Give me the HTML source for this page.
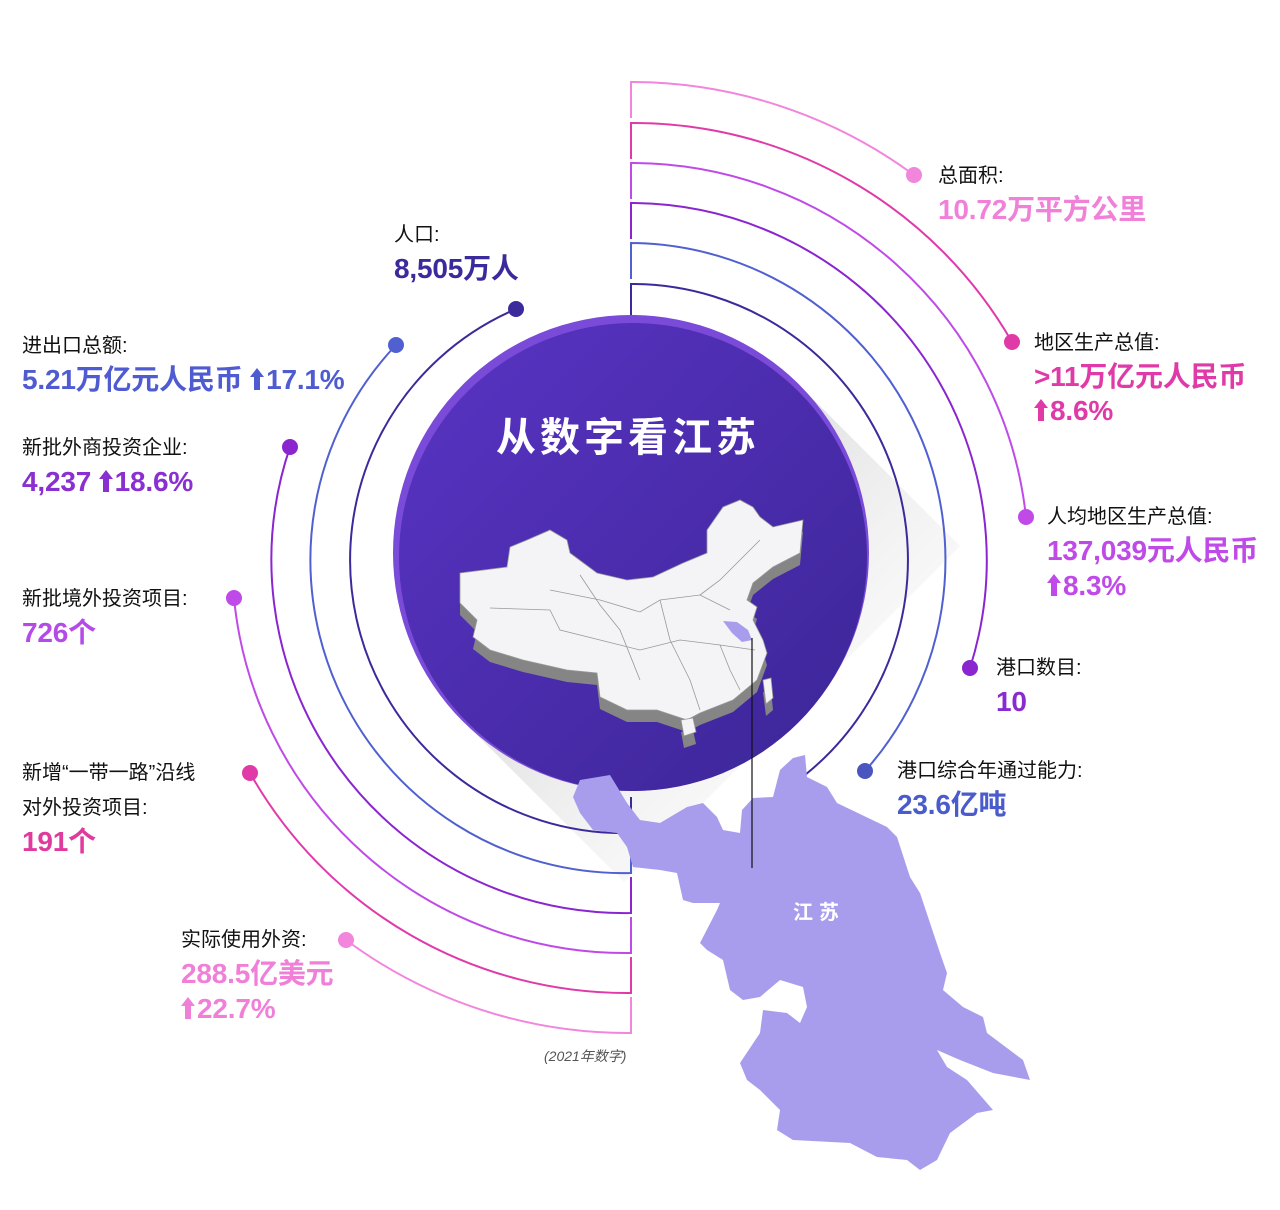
<!DOCTYPE html>
<html><head><meta charset="utf-8">
<style>
html,body{margin:0;padding:0;background:#fff;}
#w{position:relative;width:1280px;height:1210px;overflow:hidden;font-family:"Liberation Sans","Noto Sans CJK SC",sans-serif;}
svg{position:absolute;left:0;top:0;}
.t{position:absolute;white-space:nowrap;line-height:1;}
.l{font-size:20px;color:#111;}
.v{font-size:28px;font-weight:bold;letter-spacing:-0.2px;}
.ar{display:inline-block;width:14px;height:22px;vertical-align:-1px;margin-right:2px;}
</style></head><body><div id="w">
<svg width="1280" height="1210" viewBox="0 0 1280 1210">
<defs>
<linearGradient id="sh" x1="0" y1="0" x2="1" y2="1">
<stop offset="0" stop-color="#b0b0b0" stop-opacity="0.9"/>
<stop offset="0.5" stop-color="#dcdcdc" stop-opacity="0.5"/>
<stop offset="1" stop-color="#fff" stop-opacity="0"/>
</linearGradient>
<linearGradient id="cg" x1="0" y1="0" x2="1" y2="1">
<stop offset="0" stop-color="#5a34c4"/>
<stop offset="1" stop-color="#3b2596"/>
</linearGradient>
</defs>
<!-- shadow -->
<polygon points="799,385 960,546 624,882 463,721" fill="url(#sh)"/>
<!-- arcs right -->
<g fill="none" stroke-width="2">
<path d="M631 118 V82 A478 478 0 0 1 914 175" stroke="#f285dc"/>
<path d="M631 159 V123 A437 437 0 0 1 1012 342" stroke="#e03aa8"/>
<path d="M631 199 V163 A397 397 0 0 1 1026 517" stroke="#c04ae8"/>
<path d="M631 239 V203 A357 357 0 0 1 970 668" stroke="#8a25cf"/>
<path d="M631 279 V243 A317 317 0 0 1 865 771" stroke="#5060d0"/>
<path d="M631 320 V284 A276 276 0 0 1 805 775" stroke="#3a2a9c"/>
<!-- arcs left -->
<path d="M631 997 V1033 A473 473 0 0 1 346 940" stroke="#f285dc"/>
<path d="M631 957 V993 A433 433 0 0 1 250 773" stroke="#e03aa8"/>
<path d="M631 917 V953 A393 393 0 0 1 234 598" stroke="#c04ae8"/>
<path d="M631 877 V913 A353 353 0 0 1 290 447" stroke="#8a25cf"/>
<path d="M631 837 V873 A313 313 0 0 1 396 345" stroke="#5060d0"/>
<path d="M631 797 V833 A273 273 0 0 1 516 309" stroke="#3a2a9c"/>
</g>
<!-- circle -->
<circle cx="631" cy="553" r="238" fill="#7a4ad8"/>
<circle cx="633" cy="557" r="234" fill="url(#cg)"/>
<!-- dots -->
<g>
<circle cx="914" cy="175" r="8" fill="#f285dc"/>
<circle cx="1012" cy="342" r="8" fill="#e03aa8"/>
<circle cx="1026" cy="517" r="8" fill="#c04ae8"/>
<circle cx="970" cy="668" r="8" fill="#8a25cf"/>
<circle cx="865" cy="771" r="8" fill="#4a55c0"/>
<circle cx="346" cy="940" r="8" fill="#f285dc"/>
<circle cx="250" cy="773" r="8" fill="#e03aa8"/>
<circle cx="234" cy="598" r="8" fill="#c04ae8"/>
<circle cx="290" cy="447" r="8" fill="#8a25cf"/>
<circle cx="396" cy="345" r="8" fill="#5060d0"/>
<circle cx="516" cy="309" r="8" fill="#3a2a9c"/>
</g>
<!-- china map -->
<g transform="translate(0,12)" fill="#858585">
<polygon points="460,573 507,567 510,547 527,540 550,530 567,540 570,553 597,573 627,580 653,577 683,563 707,553 707,530 723,507 740,500 753,507 760,517 773,527 803,520 800,553 773,567 753,583 747,600 757,607 753,620 763,640 767,653 757,680 733,700 700,713 687,720 657,710 627,710 600,697 597,673 567,670 523,660 490,650 473,637 477,620 460,603"/>
<polygon points="681,720 693,718 696,732 684,736"/>
<polygon points="763,680 771,678 773,698 766,704"/>
</g>
<g fill="#f4f4f6" stroke="#999" stroke-width="0.8">
<polygon points="460,573 507,567 510,547 527,540 550,530 567,540 570,553 597,573 627,580 653,577 683,563 707,553 707,530 723,507 740,500 753,507 760,517 773,527 803,520 800,553 773,567 753,583 747,600 757,607 753,620 763,640 767,653 757,680 733,700 700,713 687,720 657,710 627,710 600,697 597,673 567,670 523,660 490,650 473,637 477,620 460,603"/>
<polygon points="681,720 693,718 696,732 684,736"/>
<polygon points="763,680 771,678 773,698 766,704"/>
</g>
<g fill="none" stroke="#999" stroke-width="0.8">
<path d="M490,608 L550,610 L560,630 L600,640 L640,650 L680,640 L720,645 L755,650"/>
<path d="M550,590 L600,600 L640,612 L660,600 L700,595 L730,610"/>
<path d="M580,575 L600,605 L620,630 L640,680"/>
<path d="M660,600 L670,640 L690,680 L700,710"/>
<path d="M700,595 L720,580 L740,560 L760,540"/>
<path d="M720,645 L730,670 L740,690"/>
</g>
<polygon points="723,621 737,622 748,630 752,640 742,642 732,633" fill="#a89ded"/>
<!-- jiangsu -->
<polygon fill="#a89ded" points="573,797 580,780 610,775 627,803 640,820 660,823 687,807 703,803 717,817 723,830 740,833 742,810 753,798 773,797 780,770 793,758 805,755 807,777 827,787 837,803 887,827 897,837 910,877 920,893 940,953 947,973 943,990 963,1007 983,1017 987,1033 1023,1060 1030,1080 993,1073 960,1060 937,1050 947,1067 967,1080 993,1110 977,1113 950,1133 937,1160 920,1170 907,1160 877,1157 850,1143 793,1140 777,1130 780,1110 760,1090 747,1080 740,1063 760,1033 763,1010 787,1013 800,1023 807,1007 803,987 780,980 760,997 743,1000 730,990 723,960 707,950 700,943 717,910 720,903 693,903 683,900 677,873 660,870 633,867 627,847 617,833 593,830 580,813"/>
<line x1="752" y1="638" x2="752" y2="868" stroke="#111" stroke-width="1.2"/>
</svg>
<div class="t" style="left:496px;top:418px;font-size:40px;font-weight:bold;color:#fff;letter-spacing:4px;">从数字看江苏</div>
<div class="t" style="left:793px;top:903px;font-size:20px;font-weight:bold;color:#fff;letter-spacing:6px;">江苏</div>
<div class="t" style="left:544px;top:1049px;font-size:14px;font-style:italic;color:#555;">(2021年数字)</div>

<div class="t l" style="left:394px;top:225px;">人口:</div>
<div class="t v" style="left:394px;top:255px;color:#3b2a9c;">8,505万人</div>

<div class="t l" style="left:22px;top:336px;">进出口总额:</div>
<div class="t v" style="left:22px;top:366px;color:#4f5bd0;">5.21万亿元人民币 <svg class="ar" viewBox="0 0 14 22" style="position:static"><path d="M7 0 L14 9 H10 V22 H4 V9 H0 Z" fill="#4f5bd0"/></svg>17.1%</div>

<div class="t l" style="left:22px;top:438px;">新批外商投资企业:</div>
<div class="t v" style="left:22px;top:468px;color:#8a2fd0;">4,237 <svg class="ar" viewBox="0 0 14 22" style="position:static"><path d="M7 0 L14 9 H10 V22 H4 V9 H0 Z" fill="#8a2fd0"/></svg>18.6%</div>

<div class="t l" style="left:22px;top:589px;">新批境外投资项目:</div>
<div class="t v" style="left:22px;top:619px;color:#b44ae8;">726个</div>

<div class="t l" style="left:22px;top:763px;">新增“一带一路”沿线</div>
<div class="t l" style="left:22px;top:798px;">对外投资项目:</div>
<div class="t v" style="left:22px;top:828px;color:#e03a9f;">191个</div>

<div class="t l" style="left:181px;top:930px;">实际使用外资:</div>
<div class="t v" style="left:181px;top:960px;color:#f07fd8;">288.5亿美元</div>
<div class="t v" style="left:181px;top:995px;color:#f07fd8;"><svg class="ar" viewBox="0 0 14 22" style="position:static"><path d="M7 0 L14 9 H10 V22 H4 V9 H0 Z" fill="#f07fd8"/></svg>22.7%</div>

<div class="t l" style="left:938px;top:166px;">总面积:</div>
<div class="t v" style="left:938px;top:196px;color:#f080d8;">10.72万平方公里</div>

<div class="t l" style="left:1034px;top:333px;">地区生产总值:</div>
<div class="t v" style="left:1034px;top:363px;color:#e03aa8;">&gt;11万亿元人民币</div>
<div class="t v" style="left:1034px;top:397px;color:#e03aa8;"><svg class="ar" viewBox="0 0 14 22" style="position:static"><path d="M7 0 L14 9 H10 V22 H4 V9 H0 Z" fill="#e03aa8"/></svg>8.6%</div>

<div class="t l" style="left:1047px;top:507px;">人均地区生产总值:</div>
<div class="t v" style="left:1047px;top:537px;color:#c04ae8;">137,039元人民币</div>
<div class="t v" style="left:1047px;top:572px;color:#c04ae8;"><svg class="ar" viewBox="0 0 14 22" style="position:static"><path d="M7 0 L14 9 H10 V22 H4 V9 H0 Z" fill="#c04ae8"/></svg>8.3%</div>

<div class="t l" style="left:996px;top:658px;">港口数目:</div>
<div class="t v" style="left:996px;top:688px;color:#8a2bcf;">10</div>

<div class="t l" style="left:897px;top:761px;">港口综合年通过能力:</div>
<div class="t v" style="left:897px;top:791px;color:#4a5bcc;">23.6亿吨</div>
</div></body></html>
